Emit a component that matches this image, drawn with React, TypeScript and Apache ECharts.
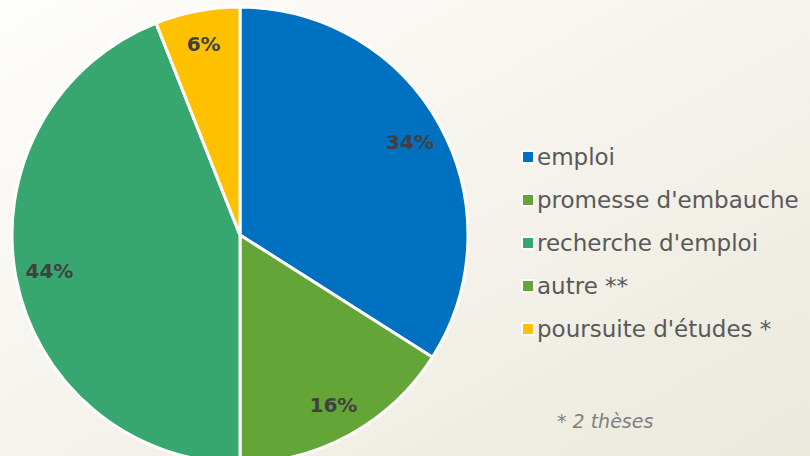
import React, { useEffect, useRef } from "react";
import * as echarts from "echarts";

const categories = ["emploi", "promesse d'embauche", "recherche d'emploi", "autre **", "poursuite d'études *"];
const values = [34, 16, 44, 0, 6];
const colors = ["#0070c0", "#63a537", "#37a76f", "#63a537", "#ffc000"];
const footnote = "* 2 thèses";

export default function App() {
  const ref = useRef<HTMLDivElement>(null);
  useEffect(() => {
    if (!ref.current) return;
    const chart = echarts.init(ref.current, null, { renderer: "svg" });
    const data = categories.map((name, i) => ({
      name,
      value: values[i],
      itemStyle: { color: colors[i] },
    }));
    const labelData = categories.map((name, i) => ({
      name,
      value: values[i],
      label: { show: values[i] > 0 },
    }));
    chart.setOption({
      animation: false,
      backgroundColor: new echarts.graphic.LinearGradient(0, 0, 1, 1, [
        { offset: 0, color: "#fdfdfb" },
        { offset: 0.5, color: "#f5f3ec" },
        { offset: 1, color: "#ebe8dc" },
      ]),
      legend: {
        orient: "vertical",
        left: 516,
        top: 140,
        itemGap: 19,
        itemWidth: 12,
        itemHeight: 12,
        icon: "rect",
        itemStyle: { borderColor: "#ffffff", borderWidth: 2 },
        textStyle: {
          fontFamily: "DejaVu Sans",
          fontSize: 23,
          lineHeight: 24,
          color: "#595959",
          padding: [0, 0, 0, -2],
        },
        data: categories,
      },
      graphic: [
        {
          type: "text",
          left: 557,
          top: 411,
          style: {
            text: footnote,
            fontFamily: "DejaVu Sans",
            fontStyle: "italic",
            fontSize: 19,
            fill: "#7f7f7f",
          },
        },
      ],
      series: [
        {
          type: "pie",
          center: [240, 235],
          radius: [0, 228],
          startAngle: 90,
          clockwise: true,
          label: { show: false },
          labelLine: { show: false },
          itemStyle: { borderColor: "#ffffff", borderWidth: 3 },
          data,
        },
        {
          type: "pie",
          center: [240, 235],
          radius: [154, 228],
          startAngle: 90,
          clockwise: true,
          silent: true,
          legendHoverLink: false,
          itemStyle: { color: "rgba(0,0,0,0)", borderWidth: 0 },
          label: {
            show: true,
            position: "inside",
            formatter: "{c}%",
            fontFamily: "DejaVu Sans",
            fontWeight: "bold",
            fontSize: 20,
            color: "#404040",
          },
          labelLine: { show: false },
          data: labelData,
        },
      ],
    });
    return () => chart.dispose();
  }, []);
  return <div ref={ref} style={{ position: "fixed", left: 0, top: 0, width: 810, height: 456 }} />;
}
